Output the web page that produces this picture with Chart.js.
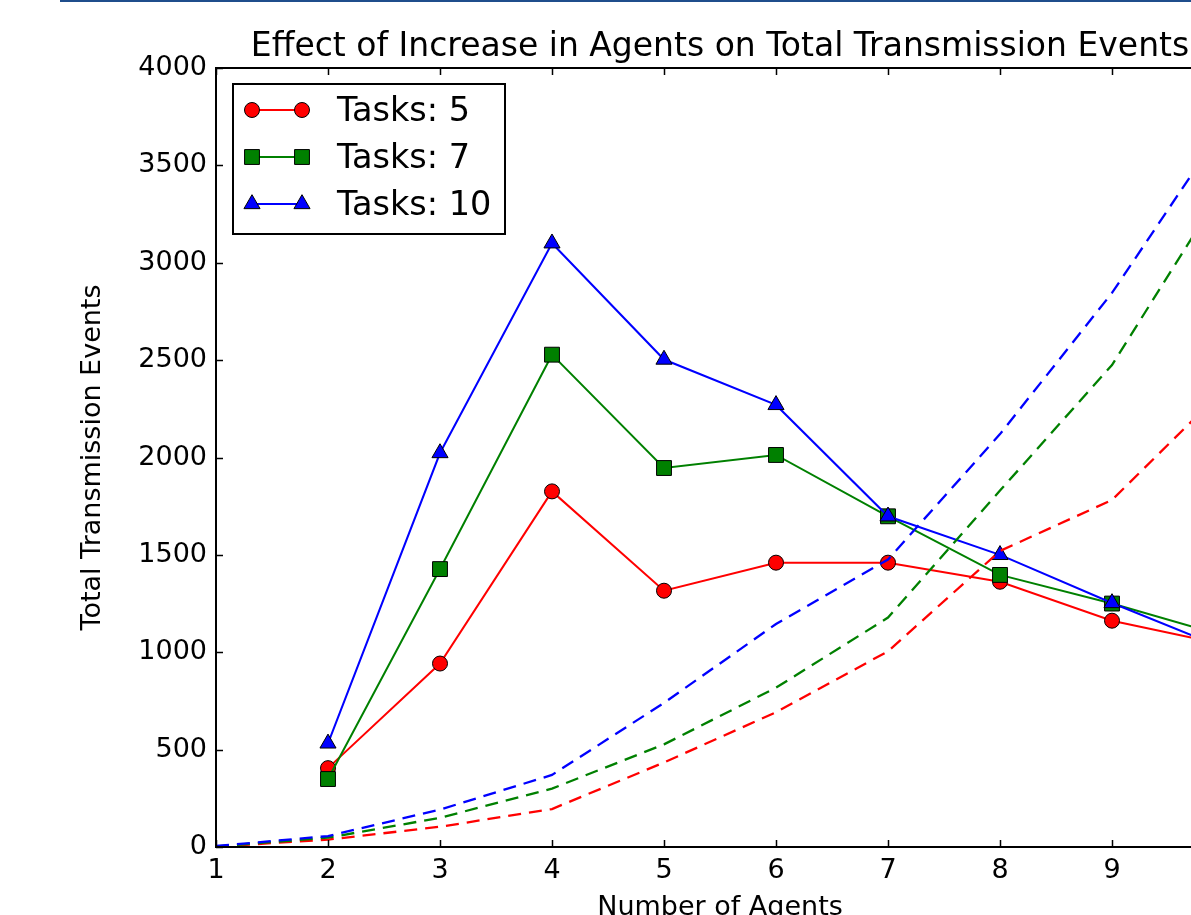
<!DOCTYPE html>
<html>
<head>
<meta charset="utf-8">
<script src="https://cdn.jsdelivr.net/npm/chart.js@4/dist/chart.umd.min.js"></script>
<style>
  html, body { margin: 0; padding: 0; background: #fff; overflow: hidden; }
  #wrap { position: relative; width: 1191px; height: 915px; overflow: hidden; }
  #topline { position: absolute; left: 60px; top: 0; right: 0; height: 2px; background: #1f4e8c; }
  canvas { position: absolute; left: 0; top: 0; }
</style>
</head>
<body>
<div id="wrap">
  <canvas id="chart" width="1440" height="915"></canvas>
  <div id="topline"></div>
</div>
<script>
  // number of agents
  var agents = [2, 3, 4, 5, 6, 7, 8, 9, 10];
  var agentsAll = [1, 2, 3, 4, 5, 6, 7, 8, 9, 10];

  // measured totals (solid lines with markers)
  var tasks5 = [405, 942, 1826, 1316, 1460, 1460, 1362, 1162, 1040];
  var tasks7 = [349, 1427, 2528, 1946, 2013, 1698, 1397, 1250, 1085];
  var tasks10 = [532, 2023, 3100, 2503, 2270, 1698, 1500, 1253, 1020];

  // dashed curves (no markers)
  var dash5 = [2, 38, 104, 195, 434, 692, 1005, 1520, 1782, 2350];
  var dash7 = [3, 48, 150, 300, 527, 818, 1178, 1830, 2475, 3390];
  var dash10 = [5, 56, 192, 370, 740, 1145, 1476, 2120, 2845, 3700];

  var yTicks = [0, 500, 1000, 1500, 2000, 2500, 3000, 3500, 4000];
  var xTicks = [1, 2, 3, 4, 5, 6, 7, 8, 9, 10];

  var seriesNames = ['Tasks: 5', 'Tasks: 7', 'Tasks: 10'];
  var seriesColors = ['#ff0000', '#008000', '#0000ff'];
  var seriesMarkers = ['circle', 'rect', 'triangle'];
  var markerSizes = [7.5, 10.5, 9.3];

  var FONT = "'DejaVu Sans', 'Liberation Sans', sans-serif";

  function pts(xs, ys) {
    return xs.map(function (x, i) { return { x: x, y: ys[i] }; });
  }

  function solid(i, ys, order) {
    return {
      label: seriesNames[i],
      data: pts(agents, ys),
      borderColor: seriesColors[i],
      backgroundColor: seriesColors[i],
      borderWidth: 2,
      pointStyle: seriesMarkers[i],
      pointRadius: markerSizes[i],
      pointHoverRadius: markerSizes[i],
      pointBorderColor: '#000',
      pointBorderWidth: 1,
      pointBackgroundColor: seriesColors[i],
      tension: 0,
      order: order
    };
  }

  function dashed(i, ys, order) {
    return {
      label: '',
      data: pts(agentsAll, ys),
      borderColor: seriesColors[i],
      borderWidth: 2.3,
      borderDash: [13, 8],
      pointRadius: 0,
      tension: 0,
      order: order
    };
  }

  // inward ticks + full frame, like matplotlib classic
  var framePlugin = {
    id: 'frame',
    afterDatasetsDraw: function (chart) {
      var ctx = chart.ctx, a = chart.chartArea;
      var xs = chart.scales.x, ys = chart.scales.y;
      ctx.save();
      ctx.strokeStyle = '#000';
      ctx.lineWidth = 1.5;
      ctx.beginPath();
      xTicks.forEach(function (v) {
        var px = Math.round(xs.getPixelForValue(v)) + 0.5;
        ctx.moveTo(px, a.bottom); ctx.lineTo(px, a.bottom - 7);
        ctx.moveTo(px, a.top); ctx.lineTo(px, a.top + 7);
      });
      yTicks.forEach(function (v) {
        var py = Math.round(ys.getPixelForValue(v)) + 0.5;
        ctx.moveTo(a.left, py); ctx.lineTo(a.left + 7, py);
        ctx.moveTo(a.right, py); ctx.lineTo(a.right - 7, py);
      });
      ctx.stroke();
      ctx.lineWidth = 2;
      ctx.strokeRect(a.left, a.top, a.right - a.left, a.bottom - a.top);
      ctx.restore();
    }
  };

  // legend box with line + two markers per row
  var legendPlugin = {
    id: 'mplLegend',
    afterDraw: function (chart) {
      var ctx = chart.ctx, a = chart.chartArea;
      var bx = a.left + 17, by = a.top + 16, bw = 272, bh = 150;
      ctx.save();
      ctx.fillStyle = '#fff';
      ctx.fillRect(bx, by, bw, bh);
      ctx.strokeStyle = '#000';
      ctx.lineWidth = 2;
      ctx.strokeRect(bx, by, bw, bh);
      for (var i = 0; i < 3; i++) {
        var cy = by + 26 + i * 47;
        var x1 = bx + 19, x2 = bx + 69;
        ctx.strokeStyle = seriesColors[i];
        ctx.lineWidth = 2;
        ctx.beginPath();
        ctx.moveTo(x1, cy); ctx.lineTo(x2, cy);
        ctx.stroke();
        ctx.fillStyle = seriesColors[i];
        ctx.strokeStyle = '#000';
        ctx.lineWidth = 1;
        var opt = { pointStyle: seriesMarkers[i], radius: markerSizes[i], rotation: 0, borderWidth: 1 };
        Chart.helpers.drawPoint(ctx, opt, x1, cy);
        Chart.helpers.drawPoint(ctx, opt, x2, cy);
        ctx.fillStyle = '#000';
        ctx.font = '33.5px ' + FONT;
        ctx.textAlign = 'left';
        ctx.textBaseline = 'middle';
        ctx.fillText(seriesNames[i], bx + 104, cy + 2);
      }
      ctx.restore();
    }
  };

  var ctx = document.getElementById('chart').getContext('2d');
  var chart = new Chart(ctx, {
    type: 'line',
    data: {
      datasets: [
        solid(0, tasks5, 6),
        solid(1, tasks7, 5),
        solid(2, tasks10, 4),
        dashed(0, dash5, 3),
        dashed(1, dash7, 2),
        dashed(2, dash10, 1)
      ]
    },
    plugins: [framePlugin, legendPlugin],
    options: {
      responsive: false,
      animation: false,
      layout: { padding: { left: 0, right: 216, top: 0, bottom: 0 } },
      plugins: {
        legend: { display: false },
        tooltip: { enabled: false },
        title: {
          display: true,
          fullSize: false,
          text: 'Effect of Increase in Agents on Total Transmission Events',
          color: '#000',
          font: { family: FONT, size: 33, weight: 'normal' },
          padding: { top: 28, bottom: 0.4 }
        }
      },
      scales: {
        x: {
          type: 'linear',
          min: 1,
          max: 10,
          afterFit: function (s) { s.height = 68; },
          afterBuildTicks: function (s) { s.ticks = xTicks.map(function (v) { return { value: v }; }); },
          grid: { display: false, drawTicks: false },
          border: { display: false },
          ticks: {
            color: '#000',
            padding: 8,
            maxRotation: 0,
            font: { family: FONT, size: 27 },
            callback: function (v) { return String(v); }
          },
          title: {
            display: true,
            text: 'Number of Agents',
            color: '#000',
            font: { family: FONT, size: 27 },
            padding: { top: 0, bottom: -9 }
          }
        },
        y: {
          min: 0,
          max: 4000,
          afterFit: function (s) { s.width = 216; },
          afterBuildTicks: function (s) { s.ticks = yTicks.map(function (v) { return { value: v }; }); },
          grid: { display: false, drawTicks: false },
          border: { display: false },
          ticks: {
            color: '#000',
            padding: 9,
            font: { family: FONT, size: 27 },
            callback: function (v) { return String(v); }
          },
          title: {
            display: true,
            text: 'Total Transmission Events',
            color: '#000',
            font: { family: FONT, size: 27 },
            padding: { top: 77, bottom: 0 }
          }
        }
      }
    }
  });
</script>
</body>
</html>
